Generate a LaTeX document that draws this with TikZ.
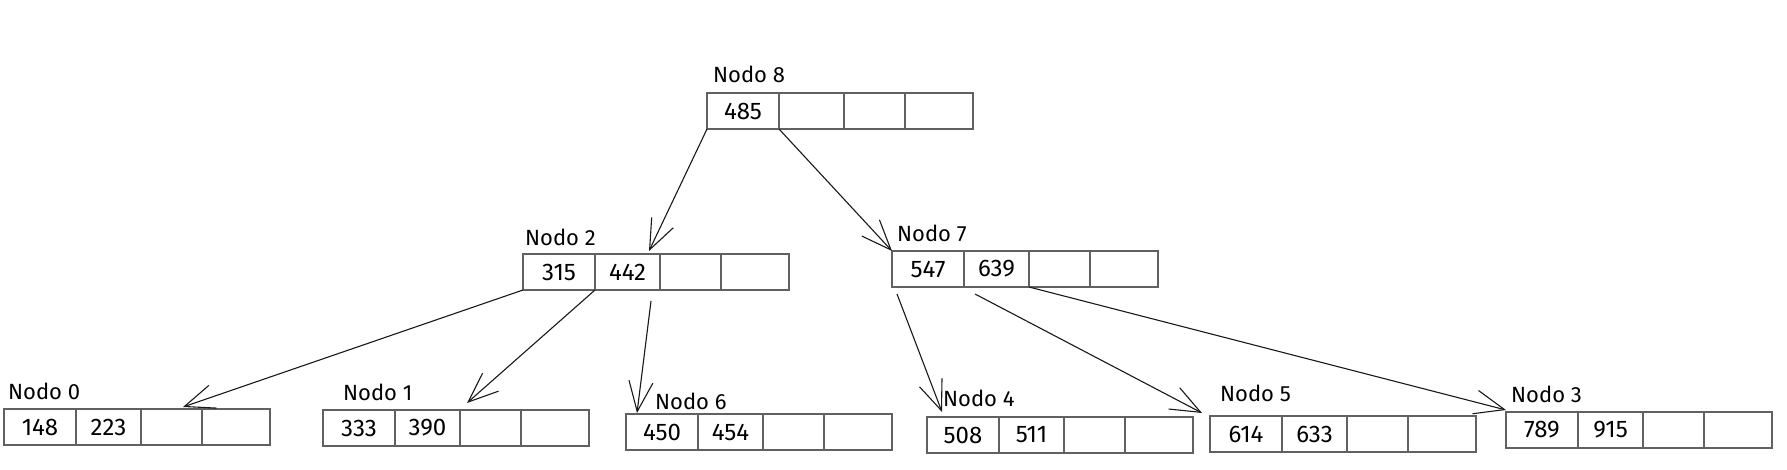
\documentclass[tikz,border=0pt]{standalone}
\usepackage{fontspec}
\setmainfont{Fira Sans}
\usetikzlibrary{arrows.meta}
\newcommand\mkbox[5]{%
  \node[cell,minimum width=72pt] (#1a) at (#2,#3) {#4};
  \node[cell,minimum width=65pt] (#1b) at (#1a.north east) {#5};
  \node[cell,minimum width=61pt] (#1c) at (#1b.north east) {};
  \node[cell,minimum width=68pt] (#1d) at (#1c.north east) {};
}
\begin{document}
\begin{tikzpicture}[x=1pt,y=-1pt,
  cell/.style={draw=black!62, line width=1.3pt, minimum height=36pt, inner sep=0pt, outer sep=0pt, anchor=north west, font=\fontsize{24}{28}\selectfont},
  lbl/.style={anchor=base west, inner sep=0pt, font=\fontsize{22}{26}\selectfont},
  link/.style={draw=black!90, line width=1.1pt, -{Straight Barb[length=30pt,width=24pt,line width=1.1pt]}}]
\useasboundingbox[fill=white] (0,0) rectangle (1787,470);

\mkbox{n8}{707}{93}{485}{}
\mkbox{n2}{523}{254}{315}{442}
\mkbox{n7}{892}{251}{547}{639}
\mkbox{n0}{4}{409}{148}{223}
\mkbox{n1}{323}{410}{333}{390}
\mkbox{n6}{626}{414}{450}{454}
\mkbox{n4}{927}{417}{508}{511}
\mkbox{n5}{1210}{416}{614}{633}
\mkbox{n3}{1506}{412}{789}{915}

\node[lbl] (l8) at (713,83) {Nodo 8};
\node[lbl] (l2) at (525,246) {Nodo 2};
\node[lbl] (l7) at (897,242) {Nodo 7};
\node[lbl] (l0) at (8,399) {Nodo 0};
\node[lbl] (l1) at (343,400) {Nodo 1};
\node[lbl] (l6) at (655,409) {Nodo 6};
\node[lbl] (l4) at (943,406) {Nodo 4};
\node[lbl] (l5) at (1220,401) {Nodo 5};
\node[lbl] (l3) at (1511,402) {Nodo 3};

\draw[link] (n8a.south west) -- ([xshift=-11pt,yshift=3pt]n2b.north east);
\draw[link] (n8a.south east) -- (n7a.north west);
\draw[link] (n2a.south west) -- ([xshift=42pt,yshift=2pt]n0c.north west);
\draw[link] (n2a.south east) -- ([xshift=7pt,yshift=7pt]n1c.north west);
\draw[link] ([xshift=-9pt,yshift=-11pt]n2b.south east) -- ([xshift=11pt,yshift=1pt]n6a.north west);
\draw[link] ([xshift=5pt,yshift=-7pt]n7a.south west) -- ([xshift=15pt,yshift=5pt]n4a.north west);
\draw[link] ([xshift=11pt,yshift=-7pt]n7b.south west) -- ([xshift=-8pt,yshift=3pt]n5a.north west);
\draw[link] (n7b.south east) -- ([yshift=2pt]n3a.north west);
\end{tikzpicture}
\end{document}
